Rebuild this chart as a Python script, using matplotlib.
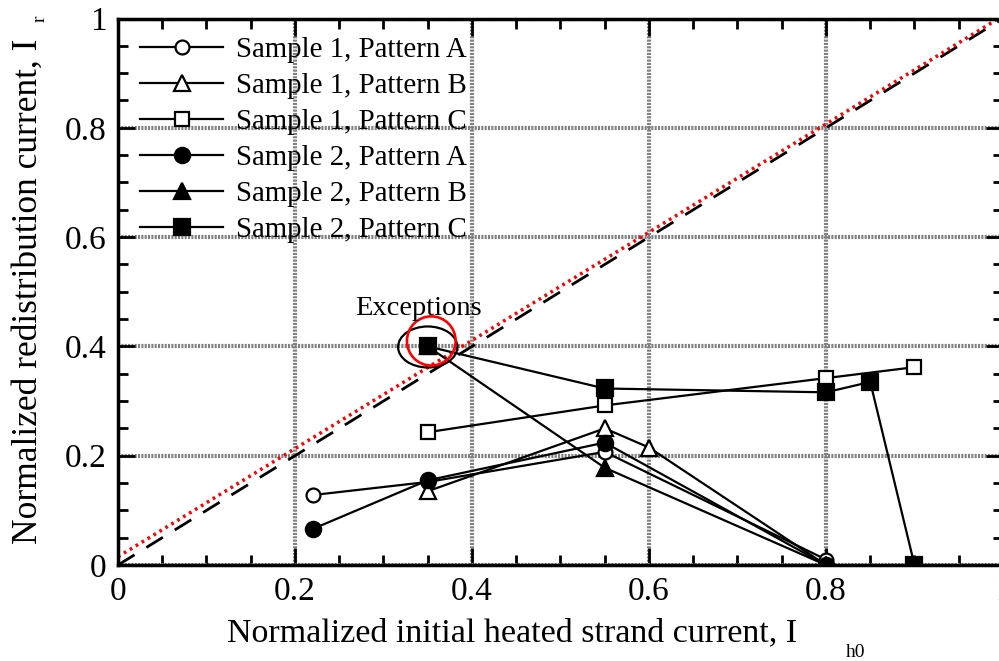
import matplotlib
matplotlib.use("Agg")
import matplotlib.pyplot as plt
from matplotlib.patches import Ellipse
from matplotlib.ticker import MultipleLocator

plt.rcParams["font.family"] = ["Liberation Serif", "DejaVu Serif"]

# ── Data ────────────────────────────────────────────────────────────
s1a_x = [0.22, 0.35, 0.55, 0.80]
s1a_y = [0.128, 0.152, 0.207, 0.010]

s1b_x = [0.35, 0.55, 0.60, 0.80]
s1b_y = [0.135, 0.250, 0.215, 0.0]

s1c_x = [0.35, 0.55, 0.80, 0.90]
s1c_y = [0.243, 0.292, 0.342, 0.362]

s2a_x = [0.22, 0.35, 0.55, 0.80]
s2a_y = [0.066, 0.155, 0.224, 0.0]

s2b_x = [0.35, 0.55, 0.80]
s2b_y = [0.400, 0.178, 0.0]

s2c_x = [0.35, 0.55, 0.80, 0.85, 0.90]
s2c_y = [0.400, 0.323, 0.316, 0.335, 0.0]

ref_x = [0.0, 1.0]
ref_y = [0.0, 1.0]
fit_x = [0.0, 1.0]
fit_y = [0.015, 1.005]

ticks = [0, 0.2, 0.4, 0.6, 0.8, 1.0]
tick_labels = ["0", "0.2", "0.4", "0.6", "0.8", "1"]

labels = ["Sample 1, Pattern A", "Sample 1, Pattern B", "Sample 1, Pattern C",
          "Sample 2, Pattern A", "Sample 2, Pattern B", "Sample 2, Pattern C"]

# ── Figure ──────────────────────────────────────────────────────────
fig = plt.figure(figsize=(9.99, 6.61), dpi=100)
ax = fig.add_axes([0.1181, 0.1452, 0.8859, 0.8268])

ax.plot(ref_x, ref_y, color="black", lw=2, dashes=(7, 5), zorder=2)
ax.plot(fit_x, fit_y, color="red", lw=2.5, linestyle=(0, (0.8, 1.2)), zorder=2)

common = dict(color="black", lw=1.6, markeredgewidth=1.6, zorder=4)
ax.plot(s1a_x, s1a_y, marker="o", ms=10, mfc="white", mec="black", label=labels[0], **common)
ax.plot(s1b_x, s1b_y, marker="^", ms=11, mfc="white", mec="black", label=labels[1], **common)
ax.plot(s1c_x, s1c_y, marker="s", ms=10.5, mfc="white", mec="black", label=labels[2], **common)
ax.plot(s2a_x, s2a_y, marker="o", ms=11, mfc="black", mec="black", label=labels[3], **common)
ax.plot(s2b_x, s2b_y, marker="^", ms=11, mfc="black", mec="black", label=labels[4], **common)
ax.plot(s2c_x, s2c_y, marker="s", ms=11, mfc="black", mec="black", label=labels[5], **common)

# exceptions highlight
ax.add_patch(Ellipse((0.35, 0.399), 0.067, 0.075, fill=False, ec="black", lw=1.6, zorder=5))
ax.add_patch(Ellipse((0.354, 0.41), 0.055, 0.09, fill=False, ec="red", lw=1.9, zorder=5))
ax.text(0.34, 0.47, "Exceptions", fontsize=20.5, ha="center", va="center", zorder=6)

ax.set_xlim(0, 1)
ax.set_ylim(0, 1)
ax.set_xticks(ticks)
ax.set_yticks(ticks)
ax.set_xticklabels(tick_labels)
ax.set_yticklabels(tick_labels)
ax.xaxis.set_minor_locator(MultipleLocator(0.05))
ax.yaxis.set_minor_locator(MultipleLocator(0.05))
ax.tick_params(which="both", direction="in", top=True, right=True, width=2,
               labelsize=24, pad=8)
ax.tick_params(which="major", length=12)
ax.tick_params(which="minor", length=7)

ax.grid(True, which="major", color="#808080", lw=3, linestyle=(0, (0.5, 0.3)), zorder=1)
for sp in ax.spines.values():
    sp.set_linewidth(2.5)
    sp.set_zorder(6)

ax.legend(loc="upper left", frameon=False, fontsize=20.8, handlelength=2.9,
          handletextpad=0.45, labelspacing=0.34, borderaxespad=0.35,
          bbox_to_anchor=(0.0, 1.006))

# axis labels with detached subscripts
fig.text(0.513, 0.043, "Normalized initial heated strand current, I", fontsize=24.5,
         ha="center", va="center")
fig.text(0.856, 0.013, "h0", fontsize=14, ha="center", va="center")
fig.text(0.028, 0.56, "Normalized redistribution current, I", fontsize=25.5,
         ha="center", va="center", rotation=90)
fig.text(0.04, 0.972, "r", fontsize=14, ha="center", va="center", rotation=90)

fig.savefig("out.png", dpi=100)
